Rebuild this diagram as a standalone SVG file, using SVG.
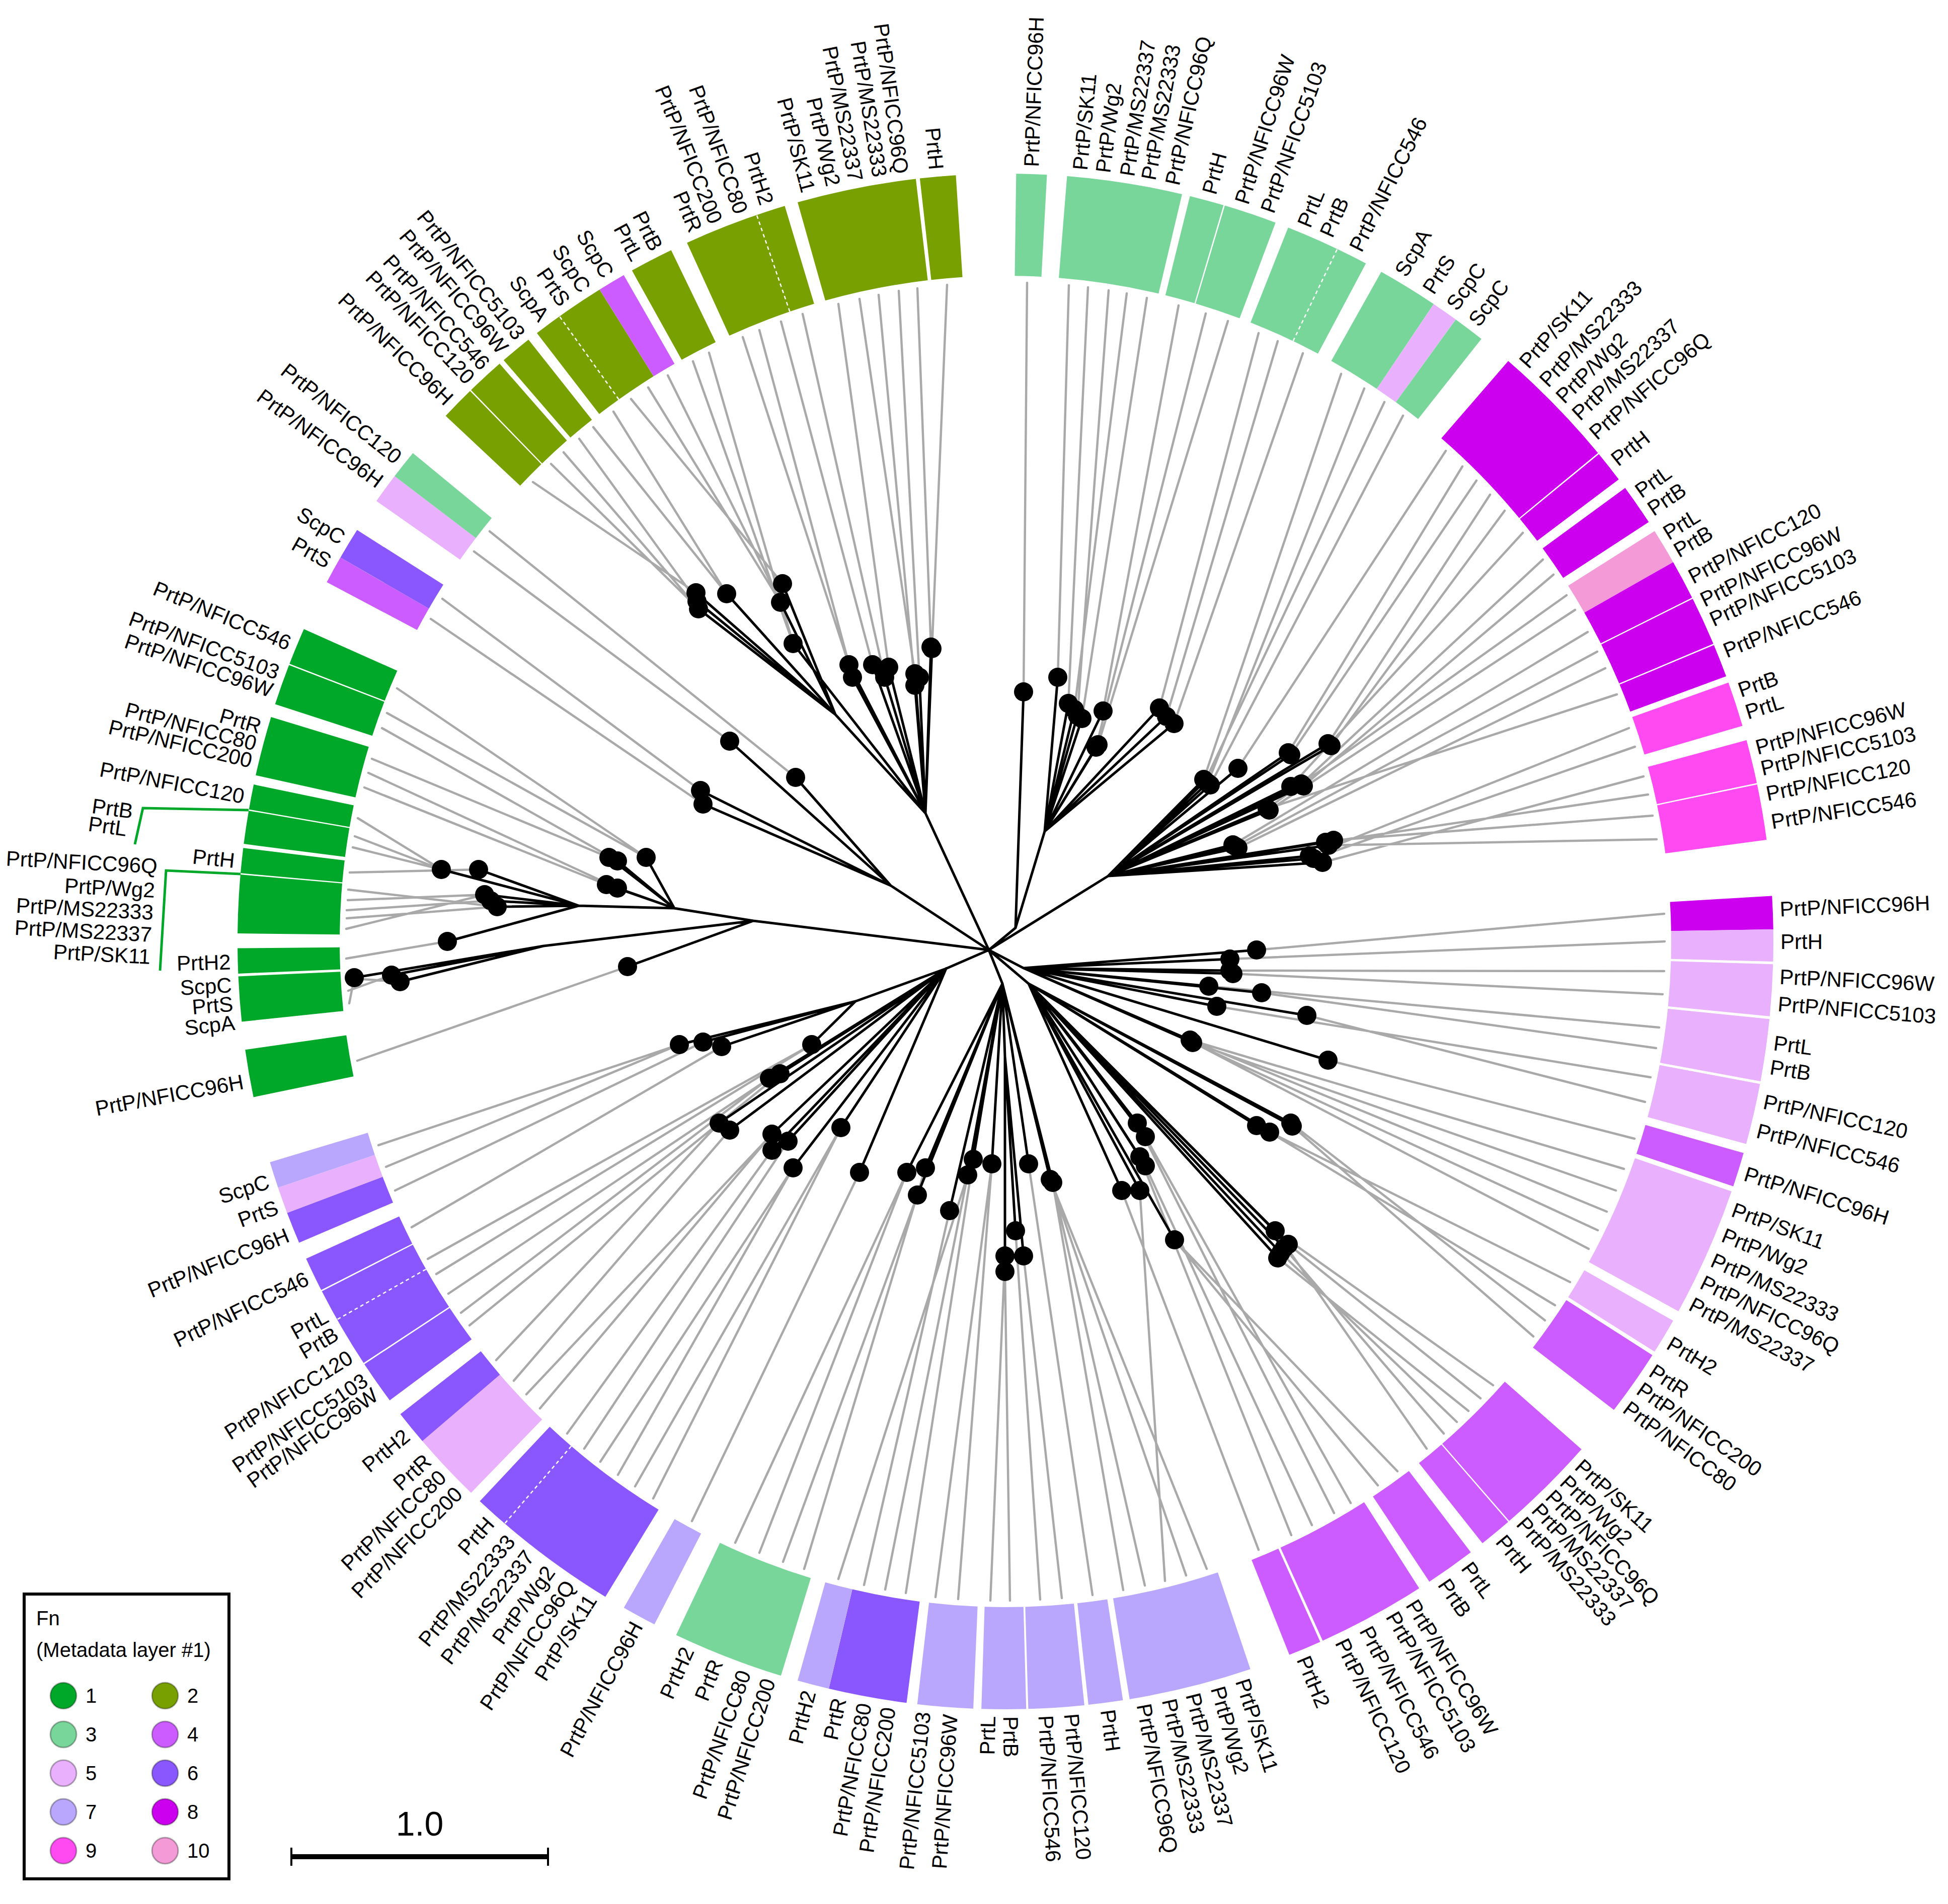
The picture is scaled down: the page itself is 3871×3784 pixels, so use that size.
<svg xmlns="http://www.w3.org/2000/svg" width="3871" height="3784" viewBox="0 0 3871 3784">
<style>
text{font-family:"Liberation Sans",Arial,sans-serif;font-size:42px;fill:#000}
.l{text-anchor:end}
.w{fill:none;stroke-width:203}
.g{fill:none;stroke:#a9a9a9;stroke-width:4.5;stroke-linecap:round}
.b{fill:none;stroke:#000;stroke-width:5;stroke-linecap:round}
.d{fill:none;stroke:#000;stroke-width:38;stroke-linecap:round}
.c1{stroke:#00a82a}.c2{stroke:#77a000}.c3{stroke:#78d69b}.c4{stroke:#cc5cff}.c5{stroke:#e8b0fd}
.c6{stroke:#8a57ff}.c7{stroke:#b9a7fd}.c8{stroke:#cc00ef}.c9{stroke:#ff4af2}.c10{stroke:#f49ad6}
.lg{stroke:#000;stroke-opacity:.3;stroke-width:3}
.lt{font-size:40px}
.sep{stroke:#fff;stroke-width:2.5;stroke-dasharray:7 6}
</style>
<rect width="3871" height="3784" fill="#fff"/>
<g id="ring">
<circle class="w c3" cx="1998" cy="1871" r="1424.5" stroke-dasharray="57.2 9999" transform="rotate(-89.2 1998 1871)"/>
<circle class="w c3" cx="1998" cy="1871" r="1424.5" stroke-dasharray="216.3 9999" transform="rotate(-85.4 1998 1871)"/>
<circle class="w c3" cx="1998" cy="1871" r="1424.5" stroke-dasharray="64.6 9999" transform="rotate(-76.1 1998 1871)"/>
<circle class="w c3" cx="1998" cy="1871" r="1424.5" stroke-dasharray="99.4 9999" transform="rotate(-73.4 1998 1871)"/>
<circle class="w c3" cx="1998" cy="1871" r="1424.5" stroke-dasharray="159.1 9999" transform="rotate(-68.4 1998 1871)"/>
<circle class="w c3" cx="1998" cy="1871" r="1424.5" stroke-dasharray="114.4 9999" transform="rotate(-60.7 1998 1871)"/>
<circle class="w c5" cx="1998" cy="1871" r="1424.5" stroke-dasharray="49.7 9999" transform="rotate(-56.1 1998 1871)"/>
<circle class="w c3" cx="1998" cy="1871" r="1424.5" stroke-dasharray="59.7 9999" transform="rotate(-54.1 1998 1871)"/>
<circle class="w c8" cx="1998" cy="1871" r="1424.5" stroke-dasharray="238.7 9999" transform="rotate(-49.1 1998 1871)"/>
<circle class="w c8" cx="1998" cy="1871" r="1424.5" stroke-dasharray="59.7 9999" transform="rotate(-39.4 1998 1871)"/>
<circle class="w c8" cx="1998" cy="1871" r="1424.5" stroke-dasharray="77.1 9999" transform="rotate(-36.2 1998 1871)"/>
<circle class="w c10" cx="1998" cy="1871" r="1424.5" stroke-dasharray="67.1 9999" transform="rotate(-32.3 1998 1871)"/>
<circle class="w c8" cx="1998" cy="1871" r="1424.5" stroke-dasharray="74.6 9999" transform="rotate(-29.6 1998 1871)"/>
<circle class="w c8" cx="1998" cy="1871" r="1424.5" stroke-dasharray="92 9999" transform="rotate(-26.5 1998 1871)"/>
<circle class="w c8" cx="1998" cy="1871" r="1424.5" stroke-dasharray="62.2 9999" transform="rotate(-22.7 1998 1871)"/>
<circle class="w c9" cx="1998" cy="1871" r="1424.5" stroke-dasharray="84.5 9999" transform="rotate(-19.7 1998 1871)"/>
<circle class="w c9" cx="1998" cy="1871" r="1424.5" stroke-dasharray="82 9999" transform="rotate(-15.2 1998 1871)"/>
<circle class="w c9" cx="1998" cy="1871" r="1424.5" stroke-dasharray="104.4 9999" transform="rotate(-11.8 1998 1871)"/>
<circle class="w c8" cx="1998" cy="1871" r="1424.5" stroke-dasharray="62.2 9999" transform="rotate(-3.4 1998 1871)"/>
<circle class="w c5" cx="1998" cy="1871" r="1424.5" stroke-dasharray="59.7 9999" transform="rotate(-0.9 1998 1871)"/>
<circle class="w c5" cx="1998" cy="1871" r="1424.5" stroke-dasharray="97 9999" transform="rotate(1.7 1998 1871)"/>
<circle class="w c5" cx="1998" cy="1871" r="1424.5" stroke-dasharray="116.9 9999" transform="rotate(5.8 1998 1871)"/>
<circle class="w c5" cx="1998" cy="1871" r="1424.5" stroke-dasharray="114.4 9999" transform="rotate(10.7 1998 1871)"/>
<circle class="w c4" cx="1998" cy="1871" r="1424.5" stroke-dasharray="64.6 9999" transform="rotate(16 1998 1871)"/>
<circle class="w c5" cx="1998" cy="1871" r="1424.5" stroke-dasharray="243.6 9999" transform="rotate(19 1998 1871)"/>
<circle class="w c5" cx="1998" cy="1871" r="1424.5" stroke-dasharray="67.1 9999" transform="rotate(29.6 1998 1871)"/>
<circle class="w c4" cx="1998" cy="1871" r="1424.5" stroke-dasharray="124.3 9999" transform="rotate(32.6 1998 1871)"/>
<circle class="w c4" cx="1998" cy="1871" r="1424.5" stroke-dasharray="189 9999" transform="rotate(41.4 1998 1871)"/>
<circle class="w c4" cx="1998" cy="1871" r="1424.5" stroke-dasharray="62.2 9999" transform="rotate(49.1 1998 1871)"/>
<circle class="w c4" cx="1998" cy="1871" r="1424.5" stroke-dasharray="94.5 9999" transform="rotate(52.7 1998 1871)"/>
<circle class="w c4" cx="1998" cy="1871" r="1424.5" stroke-dasharray="203.9 9999" transform="rotate(57.4 1998 1871)"/>
<circle class="w c4" cx="1998" cy="1871" r="1424.5" stroke-dasharray="62.2 9999" transform="rotate(65.8 1998 1871)"/>
<circle class="w c7" cx="1998" cy="1871" r="1424.5" stroke-dasharray="231.2 9999" transform="rotate(71.4 1998 1871)"/>
<circle class="w c7" cx="1998" cy="1871" r="1424.5" stroke-dasharray="64.6 9999" transform="rotate(81.2 1998 1871)"/>
<circle class="w c7" cx="1998" cy="1871" r="1424.5" stroke-dasharray="104.4 9999" transform="rotate(84.1 1998 1871)"/>
<circle class="w c7" cx="1998" cy="1871" r="1424.5" stroke-dasharray="83.3 9999" transform="rotate(88.45 1998 1871)"/>
<circle class="w c7" cx="1998" cy="1871" r="1424.5" stroke-dasharray="104.4 9999" transform="rotate(92.4 1998 1871)"/>
<circle class="w c6" cx="1998" cy="1871" r="1424.5" stroke-dasharray="146.7 9999" transform="rotate(97.4 1998 1871)"/>
<circle class="w c7" cx="1998" cy="1871" r="1424.5" stroke-dasharray="59.7 9999" transform="rotate(103.3 1998 1871)"/>
<circle class="w c3" cx="1998" cy="1871" r="1424.5" stroke-dasharray="208.8 9999" transform="rotate(107 1998 1871)"/>
<circle class="w c7" cx="1998" cy="1871" r="1424.5" stroke-dasharray="64.6 9999" transform="rotate(117.2 1998 1871)"/>
<circle class="w c6" cx="1998" cy="1871" r="1424.5" stroke-dasharray="293.4 9999" transform="rotate(121.4 1998 1871)"/>
<circle class="w c5" cx="1998" cy="1871" r="1424.5" stroke-dasharray="131.8 9999" transform="rotate(134.1 1998 1871)"/>
<circle class="w c6" cx="1998" cy="1871" r="1424.5" stroke-dasharray="64.6 9999" transform="rotate(139.4 1998 1871)"/>
<circle class="w c6" cx="1998" cy="1871" r="1424.5" stroke-dasharray="82 9999" transform="rotate(143.3 1998 1871)"/>
<circle class="w c6" cx="1998" cy="1871" r="1424.5" stroke-dasharray="154.1 9999" transform="rotate(146.7 1998 1871)"/>
<circle class="w c6" cx="1998" cy="1871" r="1424.5" stroke-dasharray="64.6 9999" transform="rotate(153 1998 1871)"/>
<circle class="w c6" cx="1998" cy="1871" r="1424.5" stroke-dasharray="59.7 9999" transform="rotate(156.9 1998 1871)"/>
<circle class="w c5" cx="1998" cy="1871" r="1424.5" stroke-dasharray="49.7 9999" transform="rotate(159.3 1998 1871)"/>
<circle class="w c7" cx="1998" cy="1871" r="1424.5" stroke-dasharray="49.7 9999" transform="rotate(161.3 1998 1871)"/>
<circle class="w c1" cx="1998" cy="1871" r="1424.5" stroke-dasharray="89.5 9999" transform="rotate(168.3 1998 1871)"/>
<circle class="w c1" cx="1998" cy="1871" r="1424.5" stroke-dasharray="84.5 9999" transform="rotate(174 1998 1871)"/>
<circle class="w c1" cx="1998" cy="1871" r="1424.5" stroke-dasharray="47.2 9999" transform="rotate(177.6 1998 1871)"/>
<circle class="w c1" cx="1998" cy="1871" r="1424.5" stroke-dasharray="109.4 9999" transform="rotate(180.6 1998 1871)"/>
<circle class="w c1" cx="1998" cy="1871" r="1424.5" stroke-dasharray="47.2 9999" transform="rotate(185.1 1998 1871)"/>
<circle class="w c1" cx="1998" cy="1871" r="1424.5" stroke-dasharray="62.2 9999" transform="rotate(187.3 1998 1871)"/>
<circle class="w c1" cx="1998" cy="1871" r="1424.5" stroke-dasharray="47.2 9999" transform="rotate(189.9 1998 1871)"/>
<circle class="w c1" cx="1998" cy="1871" r="1424.5" stroke-dasharray="111.9 9999" transform="rotate(192.5 1998 1871)"/>
<circle class="w c1" cx="1998" cy="1871" r="1424.5" stroke-dasharray="77.1 9999" transform="rotate(198 1998 1871)"/>
<circle class="w c1" cx="1998" cy="1871" r="1424.5" stroke-dasharray="69.6 9999" transform="rotate(201.2 1998 1871)"/>
<circle class="w c4" cx="1998" cy="1871" r="1424.5" stroke-dasharray="52.2 9999" transform="rotate(207.9 1998 1871)"/>
<circle class="w c6" cx="1998" cy="1871" r="1424.5" stroke-dasharray="59.7 9999" transform="rotate(210 1998 1871)"/>
<circle class="w c5" cx="1998" cy="1871" r="1424.5" stroke-dasharray="57.2 9999" transform="rotate(215 1998 1871)"/>
<circle class="w c3" cx="1998" cy="1871" r="1424.5" stroke-dasharray="54.7 9999" transform="rotate(217.3 1998 1871)"/>
<circle class="w c2" cx="1998" cy="1871" r="1424.5" stroke-dasharray="64.6 9999" transform="rotate(223.2 1998 1871)"/>
<circle class="w c2" cx="1998" cy="1871" r="1424.5" stroke-dasharray="72.1 9999" transform="rotate(225.9 1998 1871)"/>
<circle class="w c2" cx="1998" cy="1871" r="1424.5" stroke-dasharray="59.7 9999" transform="rotate(229.2 1998 1871)"/>
<circle class="w c2" cx="1998" cy="1871" r="1424.5" stroke-dasharray="141.7 9999" transform="rotate(232.4 1998 1871)"/>
<circle class="w c4" cx="1998" cy="1871" r="1424.5" stroke-dasharray="52.2 9999" transform="rotate(238.1 1998 1871)"/>
<circle class="w c2" cx="1998" cy="1871" r="1424.5" stroke-dasharray="82 9999" transform="rotate(240.9 1998 1871)"/>
<circle class="w c2" cx="1998" cy="1871" r="1424.5" stroke-dasharray="193.9 9999" transform="rotate(245.5 1998 1871)"/>
<circle class="w c2" cx="1998" cy="1871" r="1424.5" stroke-dasharray="223.8 9999" transform="rotate(254.3 1998 1871)"/>
<circle class="w c2" cx="1998" cy="1871" r="1424.5" stroke-dasharray="67.1 9999" transform="rotate(263.6 1998 1871)"/>
<line class="sep" x1="3321" y1="1871" x2="3524" y2="1871" transform="rotate(-64.4 1998 1871)"/>
<line class="sep" x1="3321" y1="1871" x2="3524" y2="1871" transform="rotate(234.5 1998 1871)"/>
<line class="sep" x1="3321" y1="1871" x2="3524" y2="1871" transform="rotate(251.1 1998 1871)"/>
<line class="sep" x1="3321" y1="1871" x2="3524" y2="1871" transform="rotate(130.7 1998 1871)"/>
<line class="sep" x1="3321" y1="1871" x2="3524" y2="1871" transform="rotate(150.5 1998 1871)"/>
</g>
<g id="connectors">
<path class="g" d="M2034 1375L2041 562M2102 1346L2124 567M2123 1398L2162 571M2141 1422L2203 577M2135 1410L2239 583M2150 1428L2279 592M2192 1413L2342 607M2178 1485L2396 623M2182 1480L2440 638M2304 1407L2501 662M2318 1424L2539 678M2333 1438L2589 702M2392 1549L2665 743M2400 1556L2711 772M2395 1552L2751 799M2405 1560L2788 826M2460 1527L2873 896M2560 1496L2906 927M2565 1500L2934 955M2639 1478L2961 983M2645 1482L2990 1015M2565 1563L3026 1059M2586 1558L3066 1112M2590 1562L3087 1142M2518 1607L3113 1183M2522 1610L3130 1212M2450 1679L3155 1256M2455 1682L3174 1295M2460 1685L3190 1328M2518 1607L3213 1380M2602 1701L3237 1447M2610 1706L3249 1484M2628 1714L3266 1543M2634 1674L3275 1579M2650 1670L3284 1621M2640 1680L3292 1668M2497 1888L3307 1816M2444 1906L3308 1871M2444 1929L3307 1930M2450 1935L3304 1976M2402 1960L3297 2042M2507 1973L3291 2083M2418 2000L3280 2141M2597 2018L3269 2190M2639 2107L3248 2263M2365 2067L3227 2323M2370 2072L3211 2366M2365 2067L3193 2408M2370 2072L3175 2445M2368 2070L3157 2482M2497 2237L3120 2548M2523 2250L3090 2594M2565 2232L3070 2624M2568 2238L3047 2656M2534 2446L2967 2753M2560 2473L2942 2779M2539 2500L2918 2804M2545 2490L2895 2826M2552 2480L2869 2849M2534 2446L2835 2879M2334 2464L2777 2924M2334 2464L2738 2952M2276 2259L2684 2987M2260 2232L2651 3007M2276 2317L2607 3031M2265 2299L2566 3051M2229 2366L2501 3080M2087 2344L2398 3118M2087 2344L2357 3131M2265 2366L2315 3142M2092 2350L2275 3151M2092 2350L2232 3160M2044 2313L2171 3170M2034 2496L2110 3176M2018 2446L2067 3179M1997 2527L2007 3181M1997 2496L1968 3181M1971 2313L1904 3178M1971 2313L1859 3174M1934 2304L1800 3166M1923 2335L1759 3159M1887 2406L1717 3150M1923 2335L1666 3138M1839 2321L1598 3118M1823 2375L1556 3104M1802 2330L1509 3086M1802 2330L1461 3066M1708 2330L1375 3023M1671 2241L1298 2978M1671 2241L1262 2954M1576 2321L1228 2931M1576 2321L1193 2905M1566 2268L1161 2879M1534 2286L1127 2849M1534 2254L1073 2799M1534 2254L1046 2771M1450 2246L1021 2744M1429 2232L986 2703M1550 2134L933 2634M1529 2143L916 2609M1529 2143L891 2571M1613 2076L867 2532M1613 2076L850 2502M1434 2080L818 2439M1397 2071L785 2366M1350 2076L767 2319M1350 2076L752 2276M1247 1921L710 2108M704 1943L694 1994M778 1938L692 1969M795 1951L690 1944M889 1871L688 1905M963 1778L688 1846M988 1802L689 1825M975 1790L689 1809M963 1778L691 1789M988 1802L692 1768M951 1728L695 1734M877 1728L701 1684M877 1728L705 1662M877 1728L711 1626M1205 1758L724 1565M1227 1765L732 1536M1210 1704L739 1508M1227 1711L759 1447M1284 1704L769 1417M1284 1704L789 1368M1397 1598L856 1230M1392 1571L879 1190M1450 1473L942 1096M1581 1545L973 1056M1383 1178L1059 958M1388 1210L1095 922M1388 1210L1120 899M1385 1195L1151 872M1444 1180L1179 849M1444 1180L1219 818M1555 1160L1254 793M1551 1197L1288 770M1551 1197L1327 746M1576 1279L1377 718M1576 1279L1409 701M1687 1321L1476 670M1694 1346L1509 656M1734 1321L1552 639M1758 1346L1595 624M1766 1326L1666 604M1818 1339L1708 594M1818 1362L1746 586M1827 1346L1786 578M1850 1286L1823 573M1852 1289L1882 566"/>
<path class="b" d="M1965 1888L1839 1616M1965 1888L1770 1760M1965 1888L1497 1830M1965 1888L2018 1844M1965 1888L2202 1741M1965 1888L2034 1924M1965 1888L2044 1955M1965 1888L1992 1955M1965 1888L1880 1925M1839 1616L1660 1420M1660 1420L1383 1178M1660 1420L1388 1210M1660 1420L1385 1195M1660 1420L1444 1180M1660 1420L1555 1160M1660 1420L1551 1197M1839 1616L1576 1279M1839 1616L1687 1321M1839 1616L1694 1346M1839 1616L1734 1321M1839 1616L1758 1346M1839 1616L1766 1326M1839 1616L1818 1339M1839 1616L1818 1362M1839 1616L1827 1346M1839 1616L1850 1286M1839 1616L1852 1289M1770 1760L1450 1473M1770 1760L1581 1545M1770 1760L1392 1571M1770 1760L1397 1598M1497 1830L1247 1921M1497 1830L1340 1805M1497 1830L1080 1880M1340 1805L1205 1758M1340 1805L1227 1765M1340 1805L1210 1704M1340 1805L1227 1711M1340 1805L1284 1704M1340 1805L1150 1800M1150 1800L963 1778M1150 1800L988 1802M1150 1800L975 1790M1150 1800L951 1728M1150 1800L877 1728M1150 1800L889 1871M1080 1880L704 1943M1080 1880L778 1938M1080 1880L795 1951M2018 1844L2034 1375M2018 1844L2076 1652M2076 1652L2102 1346M2076 1652L2123 1398M2076 1652L2141 1422M2076 1652L2135 1410M2076 1652L2150 1428M2076 1652L2192 1413M2076 1652L2178 1485M2076 1652L2182 1480M2076 1652L2304 1407M2076 1652L2318 1424M2076 1652L2333 1438M2202 1741L2392 1549M2202 1741L2400 1556M2202 1741L2395 1552M2202 1741L2405 1560M2202 1741L2460 1527M2202 1741L2560 1496M2202 1741L2565 1500M2202 1741L2639 1478M2202 1741L2645 1482M2202 1741L2565 1563M2202 1741L2586 1558M2202 1741L2590 1562M2202 1741L2518 1607M2202 1741L2522 1610M2202 1741L2450 1679M2202 1741L2455 1682M2202 1741L2460 1685M2202 1741L2602 1701M2202 1741L2610 1706M2202 1741L2628 1714M2202 1741L2634 1674M2202 1741L2650 1670M2202 1741L2640 1680M2034 1924L2497 1888M2034 1924L2444 1906M2034 1924L2444 1929M2034 1924L2450 1935M2034 1924L2402 1960M2034 1924L2507 1973M2034 1924L2418 2000M2034 1924L2597 2018M2034 1924L2639 2107M2034 1924L2365 2067M2034 1924L2370 2072M2034 1924L2368 2070M2044 1955L2497 2237M2044 1955L2523 2250M2044 1955L2565 2232M2044 1955L2568 2238M2044 1955L2534 2446M2044 1955L2560 2473M2044 1955L2539 2500M2044 1955L2545 2490M2044 1955L2552 2480M2044 1955L2334 2464M2044 1955L2276 2259M2044 1955L2260 2232M2044 1955L2276 2317M2044 1955L2265 2299M2044 1955L2229 2366M2044 1955L2265 2366M1992 1955L2087 2344M1992 1955L2092 2350M1992 1955L2044 2313M1992 1955L1971 2313M1992 1955L1934 2304M1992 1955L1923 2335M1992 1955L1887 2406M1992 1955L1839 2321M1992 1955L1823 2375M1992 1955L1802 2330M1992 1955L1997 2100M1997 2100L2034 2496M1997 2100L2018 2446M1997 2100L1997 2527M1997 2100L1997 2496M1880 1925L1708 2330M1880 1925L1671 2241M1880 1925L1576 2321M1880 1925L1566 2268M1880 1925L1534 2286M1880 1925L1534 2254M1880 1925L1450 2246M1880 1925L1429 2232M1880 1925L1550 2134M1880 1925L1529 2143M1880 1925L1700 1990M1700 1990L1613 2076M1700 1990L1434 2080M1700 1990L1397 2071M1700 1990L1350 2076"/>
<path fill="none" stroke="#00a82a" stroke-width="5" d="M478 1737L330 1730L318 1929M494 1610L284 1606L268 1678"/>
</g>
<g id="tips">
<path class="d" d="M2034 1375h0M2102 1346h0M2123 1398h0M2141 1422h0M2135 1410h0M2150 1428h0M2192 1413h0M2178 1485h0M2182 1480h0M2304 1407h0M2318 1424h0M2333 1438h0M2392 1549h0M2400 1556h0M2395 1552h0M2405 1560h0M2460 1527h0M2560 1496h0M2565 1500h0M2639 1478h0M2645 1482h0M2565 1563h0M2586 1558h0M2590 1562h0M2518 1607h0M2522 1610h0M2450 1679h0M2455 1682h0M2460 1685h0M2602 1701h0M2610 1706h0M2628 1714h0M2634 1674h0M2650 1670h0M2640 1680h0M2497 1888h0M2444 1906h0M2444 1929h0M2450 1935h0M2402 1960h0M2507 1973h0M2418 2000h0M2597 2018h0M2639 2107h0M2365 2067h0M2370 2072h0M2368 2070h0M2497 2237h0M2523 2250h0M2565 2232h0M2568 2238h0M2534 2446h0M2560 2473h0M2539 2500h0M2545 2490h0M2552 2480h0M2334 2464h0M2276 2259h0M2260 2232h0M2276 2317h0M2265 2299h0M2229 2366h0M2265 2366h0M2087 2344h0M2092 2350h0M2044 2313h0M2034 2496h0M2018 2446h0M1997 2527h0M1997 2496h0M1971 2313h0M1934 2304h0M1923 2335h0M1887 2406h0M1839 2321h0M1823 2375h0M1802 2330h0M1708 2330h0M1671 2241h0M1576 2321h0M1566 2268h0M1534 2286h0M1534 2254h0M1450 2246h0M1429 2232h0M1550 2134h0M1529 2143h0M1613 2076h0M1434 2080h0M1397 2071h0M1350 2076h0M1247 1921h0M704 1943h0M778 1938h0M795 1951h0M889 1871h0M963 1778h0M988 1802h0M975 1790h0M951 1728h0M877 1728h0M1205 1758h0M1227 1765h0M1210 1704h0M1227 1711h0M1284 1704h0M1397 1598h0M1392 1571h0M1450 1473h0M1581 1545h0M1383 1178h0M1388 1210h0M1385 1195h0M1444 1180h0M1555 1160h0M1551 1197h0M1576 1279h0M1687 1321h0M1694 1346h0M1734 1321h0M1758 1346h0M1766 1326h0M1818 1339h0M1818 1362h0M1827 1346h0M1850 1286h0M1852 1289h0"/>
</g>
<g id="labels">
<g id="n1" transform="rotate(-88.1 1998 1871)"><text x="3538" y="1886">PrtP/NFICC96H</text></g>
<g id="n2" transform="rotate(-84.5 1998 1871)"><text x="3538" y="1886">PrtP/SK11</text></g>
<g id="n3" transform="rotate(-82.8 1998 1871)"><text x="3538" y="1886">PrtP/Wg2</text></g>
<g id="n4" transform="rotate(-81 1998 1871)"><text x="3538" y="1886">PrtP/MS22337</text></g>
<g id="n5" transform="rotate(-79.4 1998 1871)"><text x="3538" y="1886">PrtP/MS22333</text></g>
<g id="n6" transform="rotate(-77.6 1998 1871)"><text x="3538" y="1886">PrtP/NFICC96Q</text></g>
<g id="n7" transform="rotate(-74.8 1998 1871)"><text x="3538" y="1886">PrtH</text></g>
<g id="n8" transform="rotate(-72.3 1998 1871)"><text x="3538" y="1886">PrtP/NFICC96W</text></g>
<g id="n9" transform="rotate(-70.3 1998 1871)"><text x="3538" y="1886">PrtP/NFICC5103</text></g>
<g id="n10" transform="rotate(-67.4 1998 1871)"><text x="3538" y="1886">PrtL</text></g>
<g id="n11" transform="rotate(-65.6 1998 1871)"><text x="3538" y="1886">PrtB</text></g>
<g id="n12" transform="rotate(-63.2 1998 1871)"><text x="3538" y="1886">PrtP/NFICC546</text></g>
<g id="n13" transform="rotate(-59.4 1998 1871)"><text x="3538" y="1886">ScpA</text></g>
<g id="n14" transform="rotate(-57 1998 1871)"><text x="3538" y="1886">PrtS</text></g>
<g id="n15" transform="rotate(-54.9 1998 1871)"><text x="3538" y="1886">ScpC</text></g>
<g id="n16" transform="rotate(-52.9 1998 1871)"><text x="3538" y="1886">ScpC</text></g>
<g id="n17" transform="rotate(-48.1 1998 1871)"><text x="3538" y="1886">PrtP/SK11</text></g>
<g id="n18" transform="rotate(-46.1 1998 1871)"><text x="3538" y="1886">PrtP/MS22333</text></g>
<g id="n19" transform="rotate(-44.4 1998 1871)"><text x="3538" y="1886">PrtP/Wg2</text></g>
<g id="n20" transform="rotate(-42.7 1998 1871)"><text x="3538" y="1886">PrtP/MS22337</text></g>
<g id="n21" transform="rotate(-40.8 1998 1871)"><text x="3538" y="1886">PrtP/NFICC96Q</text></g>
<g id="n22" transform="rotate(-38.3 1998 1871)"><text x="3538" y="1886">PrtH</text></g>
<g id="n23" transform="rotate(-35.4 1998 1871)"><text x="3538" y="1886">PrtL</text></g>
<g id="n24" transform="rotate(-33.8 1998 1871)"><text x="3538" y="1886">PrtB</text></g>
<g id="n25" transform="rotate(-31.7 1998 1871)"><text x="3538" y="1886">PrtL</text></g>
<g id="n26" transform="rotate(-30.2 1998 1871)"><text x="3538" y="1886">PrtB</text></g>
<g id="n27" transform="rotate(-28 1998 1871)"><text x="3538" y="1886">PrtP/NFICC120</text></g>
<g id="n28" transform="rotate(-26.1 1998 1871)"><text x="3538" y="1886">PrtP/NFICC96W</text></g>
<g id="n29" transform="rotate(-24.5 1998 1871)"><text x="3538" y="1886">PrtP/NFICC5103</text></g>
<g id="n30" transform="rotate(-22 1998 1871)"><text x="3538" y="1886">PrtP/NFICC546</text></g>
<g id="n31" transform="rotate(-18.9 1998 1871)"><text x="3538" y="1886">PrtB</text></g>
<g id="n32" transform="rotate(-17.2 1998 1871)"><text x="3538" y="1886">PrtL</text></g>
<g id="n33" transform="rotate(-14.5 1998 1871)"><text x="3538" y="1886">PrtP/NFICC96W</text></g>
<g id="n34" transform="rotate(-12.9 1998 1871)"><text x="3538" y="1886">PrtP/NFICC5103</text></g>
<g id="n35" transform="rotate(-11 1998 1871)"><text x="3538" y="1886">PrtP/NFICC120</text></g>
<g id="n36" transform="rotate(-8.9 1998 1871)"><text x="3538" y="1886">PrtP/NFICC546</text></g>
<g id="n37" transform="rotate(-2.4 1998 1871)"><text x="3538" y="1886">PrtP/NFICC96H</text></g>
<g id="n38" transform="rotate(0 1998 1871)"><text x="3538" y="1886">PrtH</text></g>
<g id="n39" transform="rotate(2.6 1998 1871)"><text x="3538" y="1886">PrtP/NFICC96W</text></g>
<g id="n40" transform="rotate(4.6 1998 1871)"><text x="3538" y="1886">PrtP/NFICC5103</text></g>
<g id="n41" transform="rotate(7.5 1998 1871)"><text x="3538" y="1886">PrtL</text></g>
<g id="n42" transform="rotate(9.3 1998 1871)"><text x="3538" y="1886">PrtB</text></g>
<g id="n43" transform="rotate(11.9 1998 1871)"><text x="3538" y="1886">PrtP/NFICC120</text></g>
<g id="n44" transform="rotate(14.1 1998 1871)"><text x="3538" y="1886">PrtP/NFICC546</text></g>
<g id="n45" transform="rotate(17.4 1998 1871)"><text x="3538" y="1886">PrtP/NFICC96H</text></g>
<g id="n46" transform="rotate(20.2 1998 1871)"><text x="3538" y="1886">PrtP/SK11</text></g>
<g id="n47" transform="rotate(22.2 1998 1871)"><text x="3538" y="1886">PrtP/Wg2</text></g>
<g id="n48" transform="rotate(24.2 1998 1871)"><text x="3538" y="1886">PrtP/MS22333</text></g>
<g id="n49" transform="rotate(26 1998 1871)"><text x="3538" y="1886">PrtP/NFICC96Q</text></g>
<g id="n50" transform="rotate(27.8 1998 1871)"><text x="3538" y="1886">PrtP/MS22337</text></g>
<g id="n51" transform="rotate(31.1 1998 1871)"><text x="3538" y="1886">PrtH2</text></g>
<g id="n52" transform="rotate(33.5 1998 1871)"><text x="3538" y="1886">PrtR</text></g>
<g id="n53" transform="rotate(35.1 1998 1871)"><text x="3538" y="1886">PrtP/NFICC200</text></g>
<g id="n54" transform="rotate(36.8 1998 1871)"><text x="3538" y="1886">PrtP/NFICC80</text></g>
<g id="n55" transform="rotate(42.3 1998 1871)"><text x="3538" y="1886">PrtP/SK11</text></g>
<g id="n56" transform="rotate(43.9 1998 1871)"><text x="3538" y="1886">PrtP/Wg2</text></g>
<g id="n57" transform="rotate(45.4 1998 1871)"><text x="3538" y="1886">PrtP/NFICC96Q</text></g>
<g id="n58" transform="rotate(46.8 1998 1871)"><text x="3538" y="1886">PrtP/MS22337</text></g>
<g id="n59" transform="rotate(48.3 1998 1871)"><text x="3538" y="1886">PrtP/MS22333</text></g>
<g id="n60" transform="rotate(50.3 1998 1871)"><text x="3538" y="1886">PrtH</text></g>
<g id="n61" transform="rotate(53.5 1998 1871)"><text x="3538" y="1886">PrtL</text></g>
<g id="n62" transform="rotate(55.6 1998 1871)"><text x="3538" y="1886">PrtB</text></g>
<g id="n63" transform="rotate(58.4 1998 1871)"><text x="3538" y="1886">PrtP/NFICC96W</text></g>
<g id="n64" transform="rotate(60.1 1998 1871)"><text x="3538" y="1886">PrtP/NFICC5103</text></g>
<g id="n65" transform="rotate(62.3 1998 1871)"><text x="3538" y="1886">PrtP/NFICC546</text></g>
<g id="n66" transform="rotate(64.3 1998 1871)"><text x="3538" y="1886">PrtP/NFICC120</text></g>
<g id="n67" transform="rotate(67.4 1998 1871)"><text x="3538" y="1886">PrtH2</text></g>
<g id="n68" transform="rotate(72.2 1998 1871)"><text x="3538" y="1886">PrtP/SK11</text></g>
<g id="n69" transform="rotate(74.1 1998 1871)"><text x="3538" y="1886">PrtP/Wg2</text></g>
<g id="n70" transform="rotate(76 1998 1871)"><text x="3538" y="1886">PrtP/MS22337</text></g>
<g id="n71" transform="rotate(77.8 1998 1871)"><text x="3538" y="1886">PrtP/MS22333</text></g>
<g id="n72" transform="rotate(79.7 1998 1871)"><text x="3538" y="1886">PrtP/NFICC96Q</text></g>
<g id="n73" transform="rotate(82.4 1998 1871)"><text x="3538" y="1886">PrtH</text></g>
<g id="n74" transform="rotate(85.1 1998 1871)"><text x="3538" y="1886">PrtP/NFICC120</text></g>
<g id="n75" transform="rotate(87 1998 1871)"><text x="3538" y="1886">PrtP/NFICC546</text></g>
<g id="n76" transform="rotate(89.6 1998 1871)"><text x="3538" y="1886">PrtB</text></g>
<g id="n77" transform="rotate(-88.7 1998 1871)"><text class="l" x="458" y="1886">PrtL</text></g>
<g id="n78" transform="rotate(-85.9 1998 1871)"><text class="l" x="458" y="1886">PrtP/NFICC96W</text></g>
<g id="n79" transform="rotate(-83.9 1998 1871)"><text class="l" x="458" y="1886">PrtP/NFICC5103</text></g>
<g id="n80" transform="rotate(-81.3 1998 1871)"><text class="l" x="458" y="1886">PrtP/NFICC200</text></g>
<g id="n81" transform="rotate(-79.5 1998 1871)"><text class="l" x="458" y="1886">PrtP/NFICC80</text></g>
<g id="n82" transform="rotate(-77.6 1998 1871)"><text class="l" x="458" y="1886">PrtR</text></g>
<g id="n83" transform="rotate(-75.3 1998 1871)"><text class="l" x="458" y="1886">PrtH2</text></g>
<g id="n84" transform="rotate(-72.2 1998 1871)"><text class="l" x="458" y="1886">PrtP/NFICC200</text></g>
<g id="n85" transform="rotate(-70.3 1998 1871)"><text class="l" x="458" y="1886">PrtP/NFICC80</text></g>
<g id="n86" transform="rotate(-68.1 1998 1871)"><text class="l" x="458" y="1886">PrtR</text></g>
<g id="n87" transform="rotate(-65.8 1998 1871)"><text class="l" x="458" y="1886">PrtH2</text></g>
<g id="n88" transform="rotate(-61.6 1998 1871)"><text class="l" x="458" y="1886">PrtP/NFICC96H</text></g>
<g id="n89" transform="rotate(-57.7 1998 1871)"><text class="l" x="458" y="1886">PrtP/SK11</text></g>
<g id="n90" transform="rotate(-55.8 1998 1871)"><text class="l" x="458" y="1886">PrtP/NFICC96Q</text></g>
<g id="n91" transform="rotate(-54 1998 1871)"><text class="l" x="458" y="1886">PrtP/Wg2</text></g>
<g id="n92" transform="rotate(-52.1 1998 1871)"><text class="l" x="458" y="1886">PrtP/MS22337</text></g>
<g id="n93" transform="rotate(-50.3 1998 1871)"><text class="l" x="458" y="1886">PrtP/MS22333</text></g>
<g id="n94" transform="rotate(-48.3 1998 1871)"><text class="l" x="458" y="1886">PrtH</text></g>
<g id="n95" transform="rotate(-45.1 1998 1871)"><text class="l" x="458" y="1886">PrtP/NFICC200</text></g>
<g id="n96" transform="rotate(-43.4 1998 1871)"><text class="l" x="458" y="1886">PrtP/NFICC80</text></g>
<g id="n97" transform="rotate(-41.8 1998 1871)"><text class="l" x="458" y="1886">PrtR</text></g>
<g id="n98" transform="rotate(-39.4 1998 1871)"><text class="l" x="458" y="1886">PrtH2</text></g>
<g id="n99" transform="rotate(-35.6 1998 1871)"><text class="l" x="458" y="1886">PrtP/NFICC96W</text></g>
<g id="n100" transform="rotate(-34.3 1998 1871)"><text class="l" x="458" y="1886">PrtP/NFICC5103</text></g>
<g id="n101" transform="rotate(-32.3 1998 1871)"><text class="l" x="458" y="1886">PrtP/NFICC120</text></g>
<g id="n102" transform="rotate(-30.3 1998 1871)"><text class="l" x="458" y="1886">PrtB</text></g>
<g id="n103" transform="rotate(-28.8 1998 1871)"><text class="l" x="458" y="1886">PrtL</text></g>
<g id="n104" transform="rotate(-25.7 1998 1871)"><text class="l" x="458" y="1886">PrtP/NFICC546</text></g>
<g id="n105" transform="rotate(-22.2 1998 1871)"><text class="l" x="458" y="1886">PrtP/NFICC96H</text></g>
<g id="n106" transform="rotate(-20 1998 1871)"><text class="l" x="458" y="1886">PrtS</text></g>
<g id="n107" transform="rotate(-18 1998 1871)"><text class="l" x="458" y="1886">ScpC</text></g>
<g id="n108" transform="rotate(-10.4 1998 1871)"><text class="l" x="458" y="1886">PrtP/NFICC96H</text></g>
<g id="n109" transform="rotate(-6 1998 1871)"><text class="l" x="458" y="1886">ScpA</text></g>
<g id="n110" transform="rotate(-4.6 1998 1871)"><text class="l" x="458" y="1886">PrtS</text></g>
<g id="n111" transform="rotate(-3.2 1998 1871)"><text class="l" x="458" y="1886">ScpC</text></g>
<g id="n112" transform="rotate(-1.5 1998 1871)"><text class="l" x="458" y="1886">PrtH2</text></g>
<g id="n113"><text class="l" x="298" y="1916" transform="rotate(3 298 1916)">PrtP/SK11</text></g>
<g id="n114"><text class="l" x="301" y="1872" transform="rotate(3 301 1872)">PrtP/MS22337</text></g>
<g id="n115"><text class="l" x="304" y="1828" transform="rotate(3 304 1828)">PrtP/MS22333</text></g>
<g id="n116"><text class="l" x="307" y="1784" transform="rotate(3 307 1784)">PrtP/Wg2</text></g>
<g id="n117"><text class="l" x="312" y="1736" transform="rotate(3 312 1736)">PrtP/NFICC96Q</text></g>
<g id="n118" transform="rotate(6 1998 1871)"><text class="l" x="458" y="1886">PrtH</text></g>
<g id="n119"><text class="l" x="250" y="1662" transform="rotate(8 250 1662)">PrtL</text></g>
<g id="n120"><text class="l" x="262" y="1627" transform="rotate(8 262 1627)">PrtB</text></g>
<g id="n121" transform="rotate(10.8 1998 1871)"><text class="l" x="458" y="1886">PrtP/NFICC120</text></g>
<g id="n122" transform="rotate(13.5 1998 1871)"><text class="l" x="458" y="1886">PrtP/NFICC200</text></g>
<g id="n123" transform="rotate(14.8 1998 1871)"><text class="l" x="458" y="1886">PrtP/NFICC80</text></g>
<g id="n124" transform="rotate(16.1 1998 1871)"><text class="l" x="458" y="1886">PrtR</text></g>
<g id="n125" transform="rotate(18.9 1998 1871)"><text class="l" x="458" y="1886">PrtP/NFICC96W</text></g>
<g id="n126" transform="rotate(20.3 1998 1871)"><text class="l" x="458" y="1886">PrtP/NFICC5103</text></g>
<g id="n127" transform="rotate(22.6 1998 1871)"><text class="l" x="458" y="1886">PrtP/NFICC546</text></g>
<g id="n128" transform="rotate(29.3 1998 1871)"><text class="l" x="458" y="1886">PrtS</text></g>
<g id="n129" transform="rotate(31.3 1998 1871)"><text class="l" x="458" y="1886">ScpC</text></g>
<g id="n130" transform="rotate(36.3 1998 1871)"><text class="l" x="458" y="1886">PrtP/NFICC96H</text></g>
<g id="n131" transform="rotate(38.5 1998 1871)"><text class="l" x="458" y="1886">PrtP/NFICC120</text></g>
<g id="n132" transform="rotate(44.2 1998 1871)"><text class="l" x="458" y="1886">PrtP/NFICC96H</text></g>
<g id="n133" transform="rotate(46.4 1998 1871)"><text class="l" x="458" y="1886">PrtP/NFICC120</text></g>
<g id="n134" transform="rotate(47.9 1998 1871)"><text class="l" x="458" y="1886">PrtP/NFICC546</text></g>
<g id="n135" transform="rotate(49.7 1998 1871)"><text class="l" x="458" y="1886">PrtP/NFICC96W</text></g>
<g id="n136" transform="rotate(51.3 1998 1871)"><text class="l" x="458" y="1886">PrtP/NFICC5103</text></g>
<g id="n137" transform="rotate(53.5 1998 1871)"><text class="l" x="458" y="1886">ScpA</text></g>
<g id="n138" transform="rotate(55.4 1998 1871)"><text class="l" x="458" y="1886">PrtS</text></g>
<g id="n139" transform="rotate(57.2 1998 1871)"><text class="l" x="458" y="1886">ScpC</text></g>
<g id="n140" transform="rotate(59.2 1998 1871)"><text class="l" x="458" y="1886">ScpC</text></g>
<g id="n141" transform="rotate(61.7 1998 1871)"><text class="l" x="458" y="1886">PrtL</text></g>
<g id="n142" transform="rotate(63.3 1998 1871)"><text class="l" x="458" y="1886">PrtB</text></g>
<g id="n143" transform="rotate(66.5 1998 1871)"><text class="l" x="458" y="1886">PrtR</text></g>
<g id="n144" transform="rotate(68.1 1998 1871)"><text class="l" x="458" y="1886">PrtP/NFICC200</text></g>
<g id="n145" transform="rotate(70.1 1998 1871)"><text class="l" x="458" y="1886">PrtP/NFICC80</text></g>
<g id="n146" transform="rotate(72.1 1998 1871)"><text class="l" x="458" y="1886">PrtH2</text></g>
<g id="n147" transform="rotate(75.3 1998 1871)"><text class="l" x="458" y="1886">PrtP/SK11</text></g>
<g id="n148" transform="rotate(77.2 1998 1871)"><text class="l" x="458" y="1886">PrtP/Wg2</text></g>
<g id="n149" transform="rotate(78.9 1998 1871)"><text class="l" x="458" y="1886">PrtP/MS22337</text></g>
<g id="n150" transform="rotate(80.7 1998 1871)"><text class="l" x="458" y="1886">PrtP/MS22333</text></g>
<g id="n151" transform="rotate(82.3 1998 1871)"><text class="l" x="458" y="1886">PrtP/NFICC96Q</text></g>
<g id="n152" transform="rotate(84.9 1998 1871)"><text class="l" x="458" y="1886">PrtH</text></g>
</g>
<g id="legend">
<rect x="48" y="3168" width="407" height="566" fill="none" stroke="#000" stroke-width="6"/>
<text class="lt" x="72" y="3230">Fn</text>
<text class="lt" x="72" y="3293">(Metadata layer #1)</text>
<circle class="lg" cx="126" cy="3370" r="26" fill="#00a82a"/><text class="lt" x="170" y="3384">1</text>
<circle class="lg" cx="328" cy="3370" r="26" fill="#77a000"/><text class="lt" x="372" y="3384">2</text>
<circle class="lg" cx="126" cy="3447" r="26" fill="#78d69b"/><text class="lt" x="170" y="3461">3</text>
<circle class="lg" cx="328" cy="3447" r="26" fill="#cc5cff"/><text class="lt" x="372" y="3461">4</text>
<circle class="lg" cx="126" cy="3524" r="26" fill="#e8b0fd"/><text class="lt" x="170" y="3538">5</text>
<circle class="lg" cx="328" cy="3524" r="26" fill="#8a57ff"/><text class="lt" x="372" y="3538">6</text>
<circle class="lg" cx="126" cy="3601" r="26" fill="#b9a7fd"/><text class="lt" x="170" y="3615">7</text>
<circle class="lg" cx="328" cy="3601" r="26" fill="#cc00ef"/><text class="lt" x="372" y="3615">8</text>
<circle class="lg" cx="126" cy="3678" r="26" fill="#ff4af2"/><text class="lt" x="170" y="3692">9</text>
<circle class="lg" cx="328" cy="3678" r="26" fill="#f49ad6"/><text class="lt" x="372" y="3692">10</text>
</g>
<g id="scale">
<path d="M579 3690H1089" stroke="#000" stroke-width="10"/>
<path d="M579 3672V3708M1089 3672V3708" stroke="#000" stroke-width="4"/>
<text x="834" y="3648" text-anchor="middle" style="font-size:68px">1.0</text>
</g>
</svg>
